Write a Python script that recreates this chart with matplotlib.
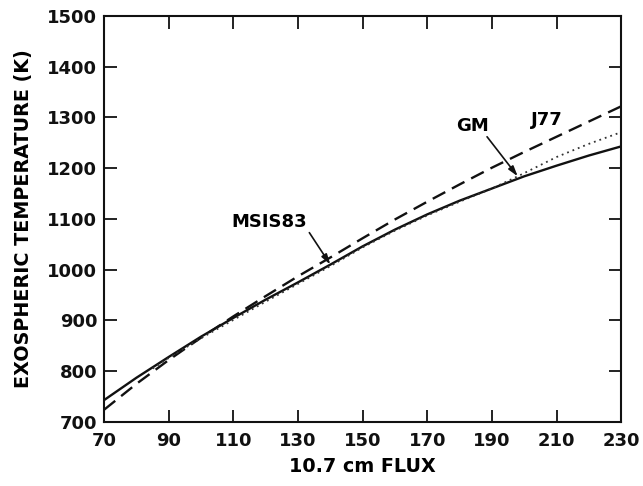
import matplotlib
matplotlib.use("Agg")
import matplotlib.pyplot as plt

# 10.7 cm solar flux and exospheric temperature for three models
flux_msis = [70, 80, 90, 100, 110, 120, 130, 140, 150, 160, 170, 180, 190, 200, 210, 220, 230]
temp_msis = [743, 787, 828, 868, 905, 941, 975, 1010, 1046, 1079, 1109, 1136, 1160, 1184, 1205, 1225, 1243]

flux_j77 = [70, 80, 90, 100, 110, 120, 130, 140, 150, 160, 170, 180, 190, 200, 210, 220, 230]
temp_j77 = [724, 775, 822, 866, 908, 948, 987, 1024, 1062, 1099, 1134, 1168, 1201, 1232, 1262, 1292, 1322]

flux_gm = [85, 90, 100, 110, 120, 130, 140, 150, 160, 170, 180, 190, 198, 210, 220, 230]
temp_gm = [805, 826, 865, 901, 937, 972, 1007, 1044, 1077, 1107, 1134, 1160, 1184, 1222, 1248, 1271]

x_ticks = [70, 90, 110, 130, 150, 170, 190, 210, 230]
y_ticks = [700, 800, 900, 1000, 1100, 1200, 1300, 1400, 1500]

font = dict(family="DejaVu Sans", weight="bold")
plt.rcParams["font.family"] = "DejaVu Sans"
plt.rcParams["font.weight"] = "bold"

fig = plt.figure(figsize=(6.43, 4.86), dpi=100)
ax = fig.add_axes([0.162, 0.132, 0.804, 0.835])

ax.plot(flux_msis, temp_msis, color="#111111", lw=1.7, ls="-")
ax.plot(flux_j77, temp_j77, color="#111111", lw=1.7, ls=(0, (6, 3.2)))
ax.plot(flux_gm, temp_gm, color="#333333", lw=1.3, ls=(0, (1, 2.2)))

ax.set_xlim(70, 230)
ax.set_ylim(700, 1500)
ax.set_xticks(x_ticks)
ax.set_yticks(y_ticks)
ax.set_xticklabels([str(v) for v in x_ticks])
ax.set_yticklabels([str(v) for v in y_ticks])

ax.tick_params(axis="both", which="major", direction="in", length=9, width=1.3,
               labelsize=13, colors="#111111")
ax.tick_params(axis="x", top=True, pad=7)
ax.tick_params(axis="y", right=True, pad=5)
for s in ax.spines.values():
    s.set_linewidth(1.5)
    s.set_color("#111111")

ax.set_xlabel("10.7 cm FLUX", fontsize=13.8, labelpad=5, **font)
ax.set_ylabel("EXOSPHERIC TEMPERATURE (K)", fontsize=13.8, labelpad=10, **font)

arrow = dict(arrowstyle="-|>,head_length=0.6,head_width=0.18", color="#111111", lw=1.2,
             shrinkA=0, shrinkB=0)

# Label arrows point at the curves themselves
i = flux_msis.index(140)
ax.text(121, 1094, "MSIS83", ha="center", va="center", fontsize=13, **font)
ax.annotate("", xy=(flux_msis[i], temp_msis[i]), xytext=(133.5, 1073), arrowprops=arrow)

j = flux_gm.index(198)
ax.text(184, 1283, "GM", ha="center", va="center", fontsize=13, **font)
ax.annotate("", xy=(flux_gm[j], temp_gm[j]), xytext=(188.5, 1262), arrowprops=arrow)

ax.text(207, 1296, "J77", ha="center", va="center", fontsize=13, **font)

fig.savefig("out.png", dpi=100)
